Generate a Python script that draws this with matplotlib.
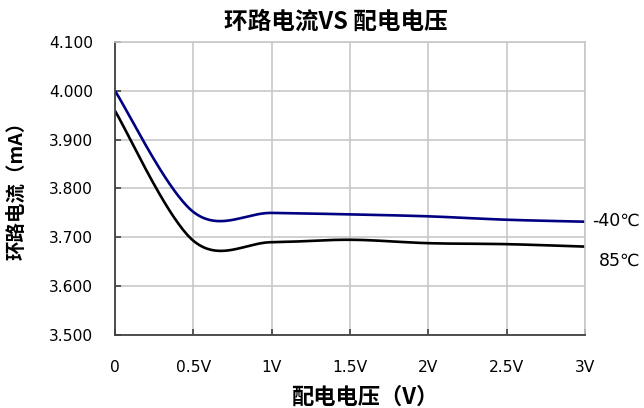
import numpy as np
import matplotlib
matplotlib.use("Agg")
import matplotlib.pyplot as plt

plt.rcParams['font.family'] = ['DejaVu Sans', 'Noto Sans CJK SC']
CJK = ['Noto Sans CJK SC', 'DejaVu Sans']

# data
voltage = [0, 0.5, 1.0, 1.5, 2.0, 2.5, 3.0]
x_labels = ["0", "0.5V", "1V", "1.5V", "2V", "2.5V", "3V"]
current_m40 = [4.000, 3.752, 3.750, 3.747, 3.743, 3.736, 3.732]
current_85 = [3.959, 3.693, 3.690, 3.695, 3.688, 3.686, 3.681]
y_ticks = [3.5, 3.6, 3.7, 3.8, 3.9, 4.0, 4.1]


def smooth(xs, ys, n=40):
    # excel-like smoothed line (catmull-rom through the points)
    xs = np.asarray(xs, float)
    ys = np.asarray(ys, float)
    pts = np.column_stack([xs, ys])
    out = []
    for i in range(len(pts) - 1):
        p0 = pts[i - 1] if i > 0 else pts[i]
        p1 = pts[i]
        p2 = pts[i + 1]
        p3 = pts[i + 2] if i + 2 < len(pts) else pts[i + 1]
        c1 = p1 + (p2 - p0) / 6.0
        c2 = p2 - (p3 - p1) / 6.0
        t = np.linspace(0, 1, n)[:, None]
        seg = (1 - t) ** 3 * p1 + 3 * (1 - t) ** 2 * t * c1 + 3 * (1 - t) * t ** 2 * c2 + t ** 3 * p2
        out.append(seg if i == 0 else seg[1:])
    out = np.vstack(out)
    return out[:, 0], out[:, 1]


fig = plt.figure(figsize=(6.44, 4.08), dpi=100)
ax = fig.add_axes([0.1786, 0.179, 0.7298, 0.718])

sx, sy = smooth(voltage, current_m40)
ax.plot(sx, sy, color='#000080', lw=1.9, solid_capstyle='butt')
sx, sy = smooth(voltage, current_85)
ax.plot(sx, sy, color='black', lw=1.9, solid_capstyle='butt')

ax.set_xlim(0, 3)
ax.set_ylim(3.5, 4.1)
ax.set_xticks(voltage)
ax.set_xticklabels(x_labels)
ax.set_yticks(y_ticks)
ax.set_yticklabels(["%.3f" % v for v in y_ticks])
ax.grid(True, color='#c8c8c8', lw=1.2)
ax.set_axisbelow(True)
for s in ['top', 'right']:
    ax.spines[s].set_color('#c8c8c8')
    ax.spines[s].set_linewidth(1.2)
for s in ['left', 'bottom']:
    ax.spines[s].set_color('#404040')
    ax.spines[s].set_linewidth(1.3)
ax.tick_params(direction='in', length=4, width=1.2, color='#404040',
               labelsize=11.2)
ax.tick_params(axis='y', pad=16)
ax.tick_params(axis='x', pad=18)

fig.text(336 / 644, 1 - 22 / 408, "环路电流VS 配电电压", fontsize=17, fontweight='bold',
         ha='center', va='center', family=CJK)
ax.set_xlabel("配电电压（V）", fontsize=16, fontweight='bold', family=CJK,
              va='center', ha='center')
ax.xaxis.set_label_coords((365 - 115) / 470, (335 - 397) / 293)
ax.set_ylabel("环路电流（mA）", fontsize=14, fontweight='bold', family=CJK,
              va='center', ha='center')
ax.yaxis.set_label_coords((17 - 115) / 470, (335 - 186) / 293)

ax.annotate("-40℃", xy=(3, current_m40[-1]), xytext=(5, 1), textcoords='offset points',
            fontsize=12.5, va='center', ha='left', annotation_clip=False)
ax.annotate("85℃", xy=(3, current_85[-1]), xytext=(10, -10), textcoords='offset points',
            fontsize=12.5, va='center', ha='left', annotation_clip=False)

fig.savefig("out.png", dpi=100)
